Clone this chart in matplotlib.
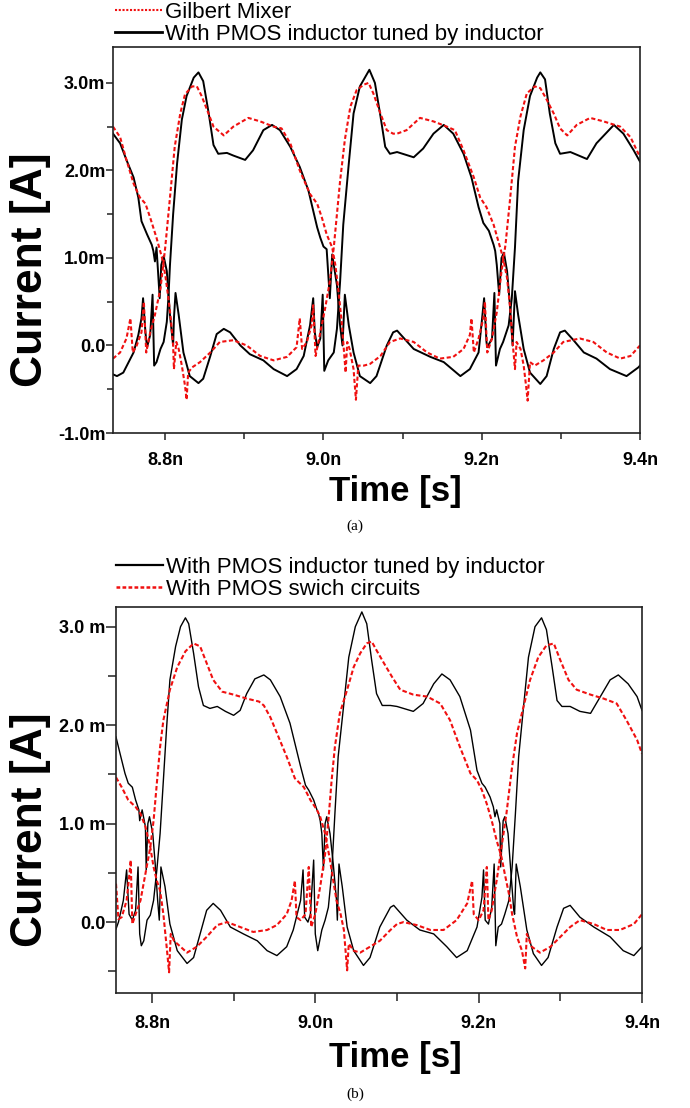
import numpy as np
import matplotlib.pyplot as plt
from matplotlib.lines import Line2D

plt.rcParams['font.family'] = ['Liberation Sans', 'DejaVu Sans']

# ---------------- data (time in ns, current in mA) ----------------
# panel (a)
ta_blk1 = [8.734, 8.739, 8.747, 8.760, 8.766, 8.770, 8.772, 8.775, 8.777, 8.781, 8.784, 8.786, 8.789, 8.794,
           8.798, 8.802, 8.804, 8.806, 8.810, 8.815, 8.821, 8.827, 8.836, 8.842, 8.848, 8.855, 8.861, 8.867,
           8.878, 8.886, 8.901, 8.911, 8.924, 8.935, 8.945, 8.958, 8.970, 8.981, 8.987, 8.992, 8.996, 9.000,
           9.004, 9.008, 9.011, 9.017, 9.021, 9.024, 9.027, 9.032, 9.038, 9.046, 9.059, 9.067, 9.080, 9.088,
           9.093, 9.114, 9.135, 9.152, 9.173, 9.185, 9.196, 9.200, 9.203, 9.206, 9.207, 9.213, 9.216, 9.218,
           9.223, 9.227, 9.234, 9.238, 9.242, 9.246, 9.253, 9.261, 9.270, 9.274, 9.280, 9.286, 9.293, 9.299,
           9.312, 9.333, 9.345, 9.367, 9.379, 9.392, 9.400]
ia_blk1 = [-0.33, -0.35, -0.31, -0.08, 0.12, 0.31, 0.54, 0.15, -0.02, 0.12, 0.58, -0.23, -0.19, -0.04,
           0.04, 0.27, 0.54, 0.92, 1.50, 2.08, 2.58, 2.85, 3.06, 3.12, 3.02, 2.65, 2.29, 2.19,
           2.20, 2.17, 2.12, 2.23, 2.46, 2.52, 2.46, 2.27, 2.04, 1.77, 1.54, 1.35, 1.23, 1.13,
           1.10, 0.54, 1.04, 0.69, 0.23, 0.00, 0.58, 0.23, -0.08, -0.35, -0.43, -0.35, 0.00, 0.15,
           0.17, -0.04, -0.13, -0.19, -0.35, -0.27, -0.08, 0.27, 0.54, 0.04, -0.02, 0.08, 0.60, -0.23,
           -0.04, 0.04, 0.23, 0.54, 1.12, 1.88, 2.46, 2.85, 3.06, 3.12, 3.04, 2.65, 2.31, 2.19,
           2.21, 2.13, 2.31, 2.52, 2.42, 2.23, 2.10]

ta_blk2 = [8.734, 8.743, 8.751, 8.760, 8.766, 8.770, 8.777, 8.783, 8.785, 8.787, 8.789, 8.793, 8.795, 8.798,
           8.802, 8.806, 8.810, 8.811, 8.813, 8.817, 8.823, 8.831, 8.842, 8.848, 8.857, 8.865, 8.874, 8.882,
           8.895, 8.907, 8.924, 8.937, 8.954, 8.966, 8.975, 8.983, 8.987, 8.989, 8.992, 8.996, 8.999, 9.001,
           9.006, 9.013, 9.017, 9.021, 9.025, 9.032, 9.038, 9.046, 9.058, 9.065, 9.072, 9.078, 9.084, 9.093,
           9.114, 9.126, 9.139, 9.152, 9.164, 9.177, 9.187, 9.196, 9.202, 9.209, 9.215, 9.217, 9.219, 9.222,
           9.225, 9.228, 9.232, 9.236, 9.239, 9.242, 9.246, 9.253, 9.261, 9.274, 9.282, 9.291, 9.299, 9.305,
           9.316, 9.329, 9.345, 9.362, 9.383, 9.398, 9.400]
ia_blk2 = [2.42, 2.31, 2.12, 1.92, 1.69, 1.42, 1.27, 1.15, 1.08, 0.96, 1.12, 0.54, 0.92, 1.02,
           0.85, 0.35, 0.00, 0.31, 0.60, 0.35, -0.08, -0.35, -0.43, -0.38, -0.12, 0.13, 0.19, 0.15,
           0.00, -0.10, -0.17, -0.27, -0.35, -0.27, -0.12, 0.23, 0.54, 0.15, -0.02, 0.08, 0.58, -0.29,
           -0.17, -0.08, 0.19, 0.73, 1.38, 2.08, 2.65, 2.96, 3.15, 3.00, 2.62, 2.27, 2.19, 2.21,
           2.15, 2.25, 2.42, 2.52, 2.42, 2.19, 1.92, 1.58, 1.40, 1.31, 1.15, 1.08, 0.92, 0.58,
           1.00, 1.06, 0.85, 0.42, 0.00, 0.62, 0.35, -0.04, -0.31, -0.44, -0.35, -0.04, 0.15, 0.17,
           0.06, -0.08, -0.15, -0.27, -0.35, -0.25, -0.23]

ta_red1 = [8.734, 8.743, 8.751, 8.756, 8.759, 8.764, 8.770, 8.773, 8.776, 8.781, 8.787, 8.794, 8.800, 8.806,
           8.812, 8.819, 8.825, 8.834, 8.840, 8.846, 8.853, 8.861, 8.874, 8.886, 8.905, 8.920, 8.937, 8.947,
           8.958, 8.970, 8.983, 8.992, 8.998, 9.004, 9.011, 9.015, 9.019, 9.023, 9.026, 9.028, 9.030, 9.033,
           9.038, 9.041, 9.044, 9.051, 9.059, 9.072, 9.084, 9.097, 9.114, 9.131, 9.147, 9.164, 9.177, 9.185,
           9.187, 9.190, 9.196, 9.202, 9.204, 9.207, 9.213, 9.219, 9.225, 9.230, 9.236, 9.242, 9.249, 9.257,
           9.267, 9.274, 9.282, 9.291, 9.299, 9.308, 9.320, 9.337, 9.354, 9.375, 9.388, 9.398, 9.400]
ia_red1 = [-0.15, -0.08, 0.08, 0.31, -0.08, 0.00, 0.15, 0.50, -0.08, 0.15, 0.35, 0.65, 1.12, 1.69,
           2.27, 2.65, 2.87, 2.96, 2.96, 2.85, 2.69, 2.50, 2.40, 2.50, 2.60, 2.56, 2.50, 2.48,
           2.31, 2.00, 1.73, 1.62, 1.46, 1.27, 1.12, 0.92, 0.62, 0.27, -0.08, -0.31, 0.04, -0.04,
           -0.27, -0.62, -0.23, -0.23, -0.21, -0.12, 0.04, 0.08, 0.04, -0.08, -0.15, -0.13, -0.04, 0.12,
           0.31, -0.08, 0.08, 0.31, 0.50, -0.08, 0.08, 0.38, 0.85, 1.15, 1.69, 2.27, 2.62, 2.88,
           2.96, 2.94, 2.81, 2.65, 2.48, 2.40, 2.52, 2.60, 2.56, 2.50, 2.38, 2.19, 2.16]

ta_red2 = [8.734, 8.743, 8.751, 8.760, 8.768, 8.775, 8.781, 8.789, 8.796, 8.800, 8.804, 8.807, 8.810, 8.811,
           8.814, 8.817, 8.821, 8.825, 8.827, 8.829, 8.834, 8.844, 8.857, 8.869, 8.886, 8.903, 8.920, 8.937,
           8.954, 8.966, 8.970, 8.973, 8.979, 8.985, 8.987, 8.990, 8.996, 9.002, 9.008, 9.013, 9.017, 9.021,
           9.027, 9.034, 9.042, 9.051, 9.057, 9.063, 9.072, 9.080, 9.088, 9.093, 9.105, 9.122, 9.139, 9.156,
           9.166, 9.177, 9.190, 9.198, 9.206, 9.215, 9.221, 9.227, 9.232, 9.236, 9.239, 9.242, 9.244, 9.249,
           9.253, 9.256, 9.258, 9.261, 9.267, 9.278, 9.291, 9.303, 9.324, 9.341, 9.358, 9.375, 9.388, 9.398,
           9.400]
ia_red2 = [2.50, 2.38, 2.12, 1.85, 1.69, 1.62, 1.46, 1.23, 1.00, 0.81, 0.54, 0.31, 0.00, -0.27,
           0.04, -0.04, -0.23, -0.46, -0.62, -0.31, -0.25, -0.19, -0.08, 0.04, 0.06, 0.00, -0.12, -0.17,
           -0.13, -0.02, 0.31, -0.04, 0.04, 0.23, 0.46, -0.12, 0.15, 0.42, 0.73, 1.12, 1.50, 1.88,
           2.35, 2.73, 2.92, 2.98, 3.00, 2.88, 2.65, 2.46, 2.42, 2.42, 2.46, 2.60, 2.56, 2.50,
           2.46, 2.23, 1.92, 1.69, 1.58, 1.38, 1.19, 1.00, 0.77, 0.42, 0.04, -0.27, 0.04, -0.04,
           -0.23, -0.46, -0.63, -0.19, -0.23, -0.17, -0.08, 0.04, 0.08, 0.04, -0.08, -0.15, -0.12, -0.02,
           0.00]

# panel (b)
tb_blk1 = [8.756, 8.759, 8.765, 8.769, 8.772, 8.776, 8.780, 8.783, 8.785, 8.787, 8.790, 8.794, 8.798, 8.802,
           8.806, 8.810, 8.814, 8.818, 8.822, 8.829, 8.835, 8.841, 8.845, 8.851, 8.857, 8.863, 8.871, 8.880,
           8.890, 8.900, 8.908, 8.916, 8.926, 8.937, 8.945, 8.957, 8.969, 8.982, 8.988, 8.992, 8.998, 9.002,
           9.004, 9.006, 9.008, 9.010, 9.012, 9.014, 9.018, 9.022, 9.026, 9.027, 9.029, 9.033, 9.039, 9.047,
           9.059, 9.067, 9.079, 9.092, 9.096, 9.112, 9.128, 9.145, 9.161, 9.173, 9.186, 9.198, 9.204, 9.206,
           9.208, 9.212, 9.216, 9.219, 9.221, 9.224, 9.228, 9.232, 9.237, 9.241, 9.245, 9.249, 9.255, 9.261,
           9.269, 9.277, 9.283, 9.290, 9.296, 9.302, 9.312, 9.324, 9.337, 9.349, 9.361, 9.371, 9.383, 9.394,
           9.400]
ib_blk1 = [-0.07, 0.00, 0.22, 0.53, 0.08, 0.02, 0.12, 0.56, -0.12, -0.24, -0.19, 0.02, 0.07, 0.22,
           0.53, 0.90, 1.44, 1.98, 2.46, 2.80, 3.00, 3.09, 3.03, 2.73, 2.39, 2.20, 2.17, 2.19,
           2.14, 2.10, 2.15, 2.32, 2.47, 2.51, 2.46, 2.29, 2.02, 1.58, 1.39, 1.34, 1.24, 1.14,
           1.10, 1.03, 0.90, 0.53, 1.00, 1.07, 0.90, 0.59, 0.22, 0.02, 0.59, 0.36, -0.05, -0.29,
           -0.44, -0.36, -0.05, 0.15, 0.17, 0.02, -0.08, -0.12, -0.25, -0.36, -0.29, -0.05, 0.25, 0.53,
           0.02, -0.02, 0.15, 0.59, -0.24, -0.05, -0.02, 0.08, 0.22, 0.56, 1.10, 1.68, 2.19, 2.69,
           3.00, 3.09, 2.97, 2.59, 2.25, 2.19, 2.19, 2.14, 2.12, 2.29, 2.46, 2.51, 2.42, 2.29,
           2.15]

tb_blk2 = [8.756, 8.761, 8.767, 8.771, 8.776, 8.780, 8.784, 8.785, 8.788, 8.792, 8.793, 8.795, 8.797, 8.801,
           8.804, 8.807, 8.809, 8.811, 8.816, 8.822, 8.831, 8.843, 8.851, 8.859, 8.867, 8.875, 8.884, 8.896,
           8.912, 8.929, 8.941, 8.953, 8.965, 8.973, 8.982, 8.985, 8.987, 8.991, 8.994, 8.998, 9.000, 9.003,
           9.008, 9.012, 9.016, 9.020, 9.024, 9.028, 9.035, 9.041, 9.049, 9.057, 9.063, 9.069, 9.075, 9.082,
           9.092, 9.100, 9.120, 9.132, 9.145, 9.155, 9.165, 9.177, 9.190, 9.198, 9.204, 9.208, 9.214, 9.218,
           9.220, 9.222, 9.226, 9.227, 9.230, 9.232, 9.236, 9.239, 9.243, 9.244, 9.246, 9.251, 9.259, 9.267,
           9.277, 9.285, 9.296, 9.304, 9.312, 9.324, 9.341, 9.361, 9.377, 9.390, 9.400]
ib_blk2 = [1.88, 1.71, 1.51, 1.41, 1.37, 1.24, 1.14, 1.03, 1.14, 0.97, 0.53, 1.00, 1.07, 0.90,
           0.59, 0.22, 0.02, 0.56, 0.36, -0.02, -0.29, -0.42, -0.36, -0.12, 0.12, 0.19, 0.12, -0.05,
           -0.12, -0.19, -0.29, -0.34, -0.25, -0.08, 0.22, 0.53, 0.05, 0.00, 0.08, 0.63, -0.12, -0.29,
           -0.08, 0.02, 0.15, 0.49, 1.10, 1.68, 2.22, 2.69, 3.00, 3.15, 3.03, 2.66, 2.32, 2.20,
           2.20, 2.19, 2.14, 2.22, 2.42, 2.52, 2.46, 2.29, 1.95, 1.54, 1.41, 1.37, 1.27, 1.17,
           1.07, 1.14, 1.00, 0.56, 1.03, 1.07, 0.90, 0.56, 0.12, 0.08, 0.59, 0.36, -0.08, -0.32,
           -0.44, -0.36, -0.05, 0.14, 0.17, 0.05, -0.05, -0.15, -0.29, -0.34, -0.25]

tb_red1 = [8.756, 8.759, 8.763, 8.769, 8.773, 8.774, 8.776, 8.780, 8.786, 8.792, 8.798, 8.802, 8.806, 8.810,
           8.814, 8.822, 8.831, 8.841, 8.851, 8.859, 8.867, 8.875, 8.886, 8.900, 8.916, 8.931, 8.937, 8.945,
           8.953, 8.965, 8.975, 8.986, 8.994, 9.002, 9.006, 9.012, 9.018, 9.022, 9.026, 9.031, 9.035, 9.039,
           9.041, 9.047, 9.055, 9.067, 9.079, 9.092, 9.100, 9.108, 9.124, 9.141, 9.157, 9.173, 9.186, 9.192,
           9.194, 9.200, 9.206, 9.210, 9.212, 9.216, 9.222, 9.228, 9.234, 9.241, 9.247, 9.255, 9.263, 9.273,
           9.283, 9.292, 9.300, 9.310, 9.320, 9.337, 9.353, 9.369, 9.381, 9.394, 9.400]
ib_red1 = [0.39, 0.03, 0.05, 0.22, 0.53, 0.63, -0.02, 0.08, 0.22, 0.49, 0.76, 1.03, 1.41, 1.78,
           2.05, 2.36, 2.59, 2.75, 2.83, 2.80, 2.63, 2.46, 2.34, 2.31, 2.27, 2.24, 2.20, 2.08,
           1.92, 1.68, 1.46, 1.37, 1.24, 1.14, 1.07, 0.90, 0.63, 0.42, 0.22, 0.08, -0.08, -0.49,
           -0.22, -0.29, -0.31, -0.25, -0.19, -0.08, -0.02, 0.00, -0.03, -0.08, -0.08, 0.02, 0.19, 0.42,
           0.08, 0.02, 0.12, 0.56, 0.02, 0.12, 0.42, 0.76, 1.10, 1.58, 1.92, 2.19, 2.46, 2.69,
           2.81, 2.83, 2.66, 2.46, 2.36, 2.31, 2.27, 2.22, 2.05, 1.85, 1.71]

tb_red2 = [8.756, 8.763, 8.771, 8.780, 8.786, 8.792, 8.798, 8.802, 8.806, 8.810, 8.814, 8.818, 8.821, 8.823,
           8.827, 8.835, 8.843, 8.855, 8.867, 8.880, 8.892, 8.908, 8.924, 8.941, 8.953, 8.965, 8.971, 8.975,
           8.977, 8.982, 8.988, 8.992, 8.995, 9.000, 9.006, 9.012, 9.016, 9.020, 9.024, 9.030, 9.039, 9.047,
           9.055, 9.063, 9.069, 9.075, 9.084, 9.094, 9.104, 9.120, 9.137, 9.153, 9.165, 9.177, 9.190, 9.198,
           9.204, 9.210, 9.216, 9.222, 9.228, 9.232, 9.237, 9.241, 9.247, 9.253, 9.257, 9.259, 9.265, 9.275,
           9.288, 9.300, 9.312, 9.324, 9.341, 9.357, 9.373, 9.390, 9.400]
ib_red2 = [1.47, 1.37, 1.24, 1.17, 1.10, 0.97, 0.76, 0.56, 0.42, 0.32, 0.08, -0.25, -0.51, -0.12,
           -0.19, -0.25, -0.31, -0.25, -0.15, -0.03, 0.00, -0.05, -0.10, -0.08, -0.03, 0.08, 0.22, 0.42,
           0.05, 0.02, 0.08, 0.56, -0.05, 0.08, 0.36, 0.69, 1.03, 1.44, 1.78, 2.12, 2.36, 2.59,
           2.73, 2.83, 2.85, 2.76, 2.63, 2.49, 2.36, 2.31, 2.29, 2.22, 2.05, 1.78, 1.51, 1.44,
           1.34, 1.20, 1.03, 0.83, 0.66, 0.49, 0.29, 0.08, -0.15, -0.29, -0.47, -0.12, -0.25, -0.31,
           -0.25, -0.15, -0.05, 0.02, -0.02, -0.08, -0.08, -0.02, 0.08]

xticks = [8.8, 9.0, 9.2, 9.4]
xticklabels = ['8.8n', '9.0n', '9.2n', '9.4n']
yticks_a = [-1, 0, 1, 2, 3]
yticklabels_a = ['-1.0m', '0.0', '1.0m', '2.0m', '3.0m']
yticks_b = [0, 1, 2, 3]
yticklabels_b = ['0.0', '1.0 m', '2.0 m', '3.0 m']
legend_a = ['Gilbert Mixer', 'With PMOS inductor tuned by inductor']
legend_b = ['With PMOS inductor tuned by inductor', 'With PMOS swich circuits']

# ---------------- figure ----------------
W, H = 690, 1108
fig = plt.figure(figsize=(W / 100, H / 100), dpi=100)


def box(l, t, r, b):
    return [l / W, 1 - b / H, (r - l) / W, (b - t) / H]


def style(ax, xlim, ylim, yt, ytl, yminor, ticklen):
    ax.set_xlim(xlim)
    ax.set_ylim(ylim)
    ax.set_xticks(xticks, xticklabels)
    ax.set_xticks([8.9, 9.1, 9.3], minor=True)
    ax.set_yticks(yt, ytl)
    ax.set_yticks(yminor, minor=True)
    ax.tick_params(which='both', direction='out', width=1.1, labelsize=13, color='#222222')
    ax.tick_params(which='major', length=ticklen)
    ax.tick_params(which='minor', length=ticklen * 0.8)
    ax.tick_params(axis='y', pad=0.5)
    ax.tick_params(axis='x', pad=9)
    for lbl in ax.get_xticklabels() + ax.get_yticklabels():
        lbl.set_fontweight('bold')
    for s in ax.spines.values():
        s.set_linewidth(1.2)
        s.set_color('#222222')


red = '#f01010'

# panel (a)
ax_a = fig.add_axes(box(113, 47, 640, 433))
ax_a.plot(ta_blk1, ia_blk1, color='black', lw=1.4)
ax_a.plot(ta_blk2, ia_blk2, color='black', lw=1.4)
ax_a.plot(ta_red1, ia_red1, color=red, lw=1.5, dashes=(2.0, 1.2))
ax_a.plot(ta_red2, ia_red2, color=red, lw=1.5, dashes=(2.0, 1.2))
style(ax_a, (8.734, 9.4), (-1.0, 3.41), yticks_a, yticklabels_a, [-0.5, 0.5, 1.5, 2.5], 5)

h_a = [Line2D([], [], color=red, lw=1.5, dashes=(1, 0.8)),
       Line2D([], [], color='black', lw=2.0)]
ax_a.legend(h_a, legend_a, loc='upper left', bbox_to_anchor=(115 / W, 1 - 2 / H),
            bbox_transform=fig.transFigure, frameon=False, fontsize=16,
            handlelength=2.1, handletextpad=0.15, labelspacing=0.05,
            borderpad=0, borderaxespad=0)

# panel (b)
ax_b = fig.add_axes(box(116, 607, 642, 993))
ax_b.plot(tb_blk1, ib_blk1, color='black', lw=1.0)
ax_b.plot(tb_blk2, ib_blk2, color='black', lw=1.0)
ax_b.plot(tb_red1, ib_red1, color=red, lw=1.5, dashes=(2.2, 1.2))
ax_b.plot(tb_red2, ib_red2, color=red, lw=1.5, dashes=(2.2, 1.2))
style(ax_b, (8.756, 9.4), (-0.72, 3.2), yticks_b, yticklabels_b, [-0.5, 0.5, 1.5, 2.5], 7)

h_b = [Line2D([], [], color='black', lw=1.6),
       Line2D([], [], color=red, lw=1.8, dashes=(1.5, 0.9))]
ax_b.legend(h_b, legend_b, loc='upper left', bbox_to_anchor=(116 / W, 1 - 557 / H),
            bbox_transform=fig.transFigure, frameon=False, fontsize=16,
            handlelength=2.1, handletextpad=0.15, labelspacing=0.05,
            borderpad=0, borderaxespad=0)

# axis titles and captions
fig.text(395 / W, 1 - 492 / H, 'Time [s]', ha='center', va='center', fontsize=25, fontweight='bold')
fig.text(31 / W, 1 - 270 / H, 'Current [A]', ha='center', va='center', rotation=90,
         fontsize=32, fontweight='bold')
fig.text(355 / W, 1 - 526 / H, '(a)', ha='center', va='center', fontsize=11, family='Liberation Serif')

fig.text(395 / W, 1 - 1057 / H, 'Time [s]', ha='center', va='center', fontsize=25, fontweight='bold')
fig.text(31 / W, 1 - 830 / H, 'Current [A]', ha='center', va='center', rotation=90,
         fontsize=32, fontweight='bold')
fig.text(355 / W, 1 - 1094 / H, '(b)', ha='center', va='center', fontsize=11, family='Liberation Serif')

fig.savefig('out.png', dpi=100)
